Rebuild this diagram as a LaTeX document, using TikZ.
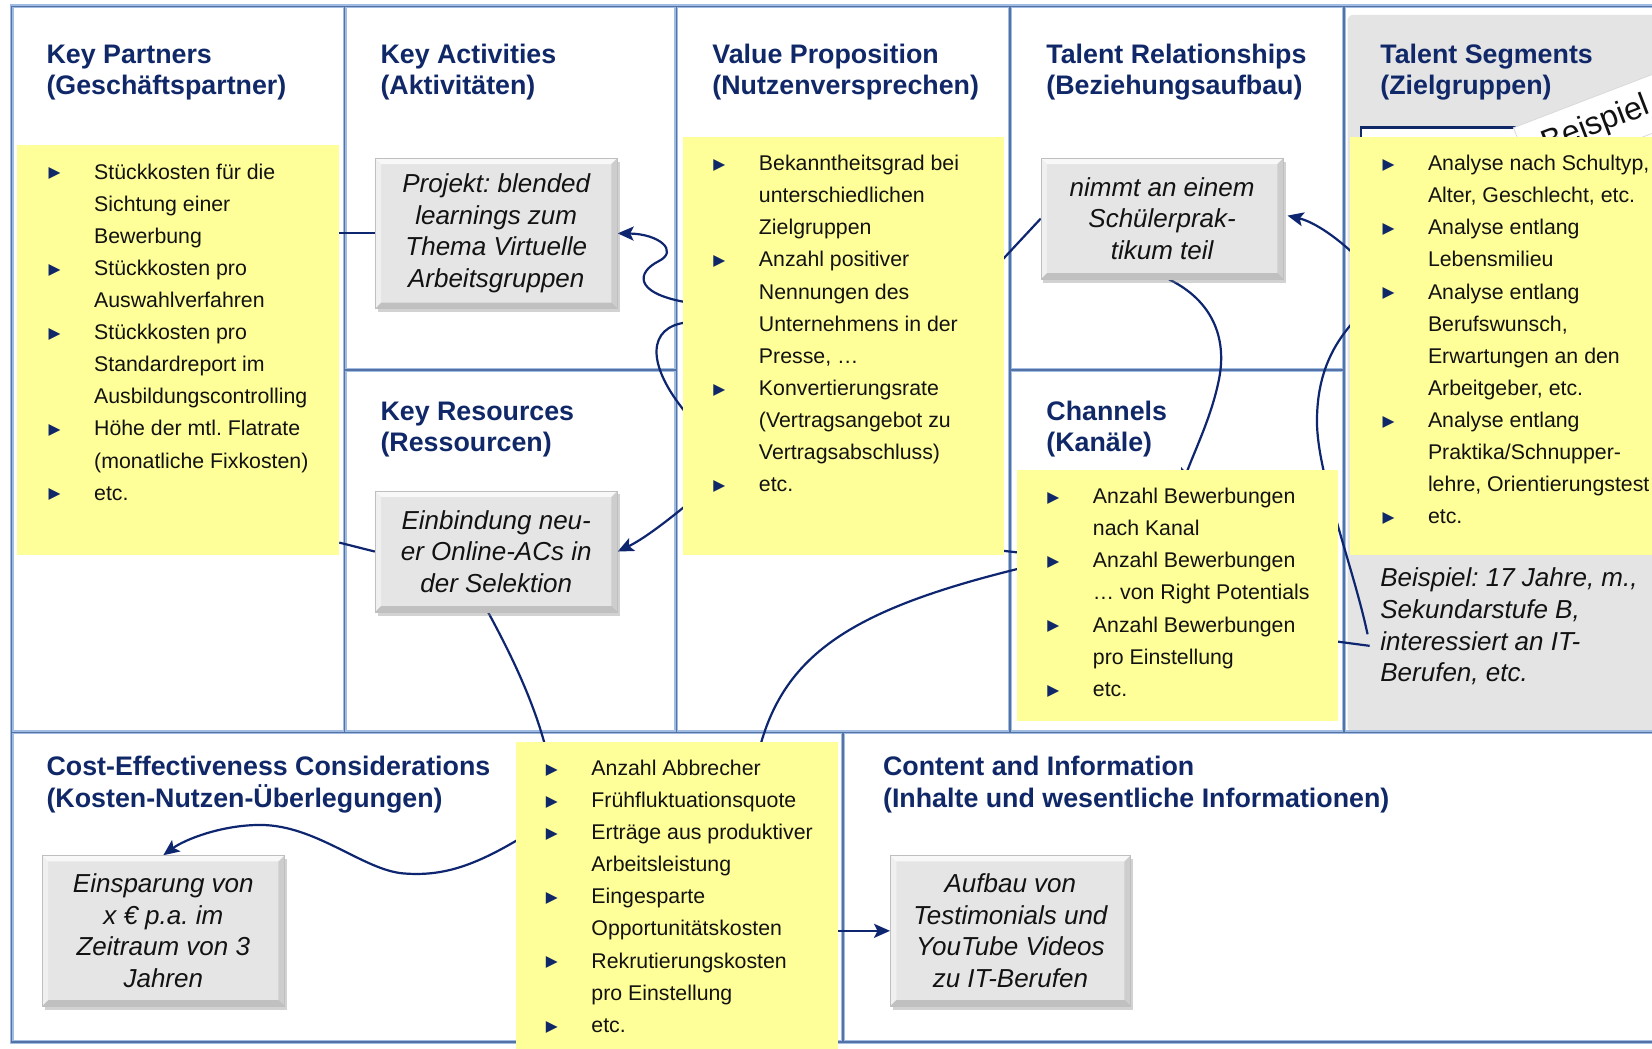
\documentclass[tikz,border=0pt]{standalone}
\usepackage{fontspec}
\setmainfont{Liberation Sans}
\newfontfamily\dejavu{DejaVu Sans}
\usetikzlibrary{arrows.meta,fit,shadows}

\definecolor{navy}{RGB}{16,40,104}
\definecolor{arrowc}{RGB}{14,38,112}
\definecolor{ylw}{RGB}{255,255,153}
\definecolor{segbg}{RGB}{228,228,228}
\definecolor{boxgrey}{RGB}{229,229,229}
\definecolor{frameL}{RGB}{160,188,226}
\definecolor{frameD}{RGB}{84,114,164}
\definecolor{txt}{RGB}{18,18,18}

\pgfdeclarelayer{bg}
\pgfdeclarelayer{links}
\pgfsetlayers{bg,links,main}

% bullet sign and small table helpers
\newcommand\bl{\raisebox{1.2pt}{\textcolor{navy}{\dejavu\fontsize{15.5pt}{15.5pt}\selectfont ▶}}}
\newcommand\twol[2]{\begin{tabular}[t]{@{}l@{}}#1\\#2\end{tabular}}
\newenvironment{blist}{\begin{tabular}[t]{@{}p{45.5pt}@{}l@{}}}{\end{tabular}}

\tikzset{
  hd/.style={anchor=base west, inner sep=0pt, text=navy,
    font=\fontsize{26.8pt}{31.6pt}\selectfont\bfseries},
  lst/.style={anchor=base west, inner sep=0pt, text=txt,
    font=\fontsize{21.3pt}{32.1pt}\selectfont},
  ybox/.style={fill=ylw, draw=none, inner sep=0pt},
  gbox/.style={draw=gray!50, line width=0.5pt, fill=boxgrey, inner sep=0pt,
    align=center, text=txt, font=\fontsize{26pt}{31.6pt}\selectfont\itshape,
    drop shadow={shadow xshift=2.5pt, shadow yshift=-3.5pt, opacity=0.35},
    path picture={
      \fill[white,opacity=0.75] (path picture bounding box.north west) -- (path picture bounding box.north east)
        -- ([shift={(-6pt,-6pt)}]path picture bounding box.north east) -- ([shift={(6pt,-6pt)}]path picture bounding box.north west) -- cycle;
      \fill[white,opacity=0.45] (path picture bounding box.north west) -- ([shift={(6pt,-6pt)}]path picture bounding box.north west)
        -- ([shift={(6pt,6pt)}]path picture bounding box.south west) -- (path picture bounding box.south west) -- cycle;
      \fill[black,opacity=0.16] (path picture bounding box.south west) -- (path picture bounding box.south east)
        -- ([shift={(-6pt,6pt)}]path picture bounding box.south east) -- ([shift={(6pt,6pt)}]path picture bounding box.south west) -- cycle;
      \fill[black,opacity=0.10] (path picture bounding box.north east) -- (path picture bounding box.south east)
        -- ([shift={(-6pt,6pt)}]path picture bounding box.south east) -- ([shift={(-6pt,-6pt)}]path picture bounding box.north east) -- cycle;
    }},
  link/.style={draw=arrowc, line width=2.2pt},
  arr/.style={link, -{Stealth[length=16pt,width=14pt,inset=3.5pt]}},
}

\begin{document}
\frenchspacing
\begin{tikzpicture}[x=1.053571pt, y=-1.053571pt]
\useasboundingbox (0,0) rectangle (1568,995);

% ---------- canvas, grid of the model ----------
\begin{pgfonlayer}{bg}
  \fill[white] (0,0) rectangle (1568,995);
  \fill[segbg, rounded corners=6pt] (1279,14) rectangle (1590,695);
  \foreach \w/\c in {4pt/frameL, 1.4pt/frameD} {
    \draw[line width=\w, draw=\c] (1580,6) -- (11,6) -- (11,989) -- (1580,989);
    \draw[line width=\w, draw=\c] (11,695) -- (1580,695);
    \draw[line width=\w, draw=\c] (327,6) -- (327,695) (642,6) -- (642,695)
      (958.5,6) -- (958.5,695) (1275.5,6) -- (1275.5,695)
      (327,351) -- (642,351) (958.5,351) -- (1275.5,351) (800,695) -- (800,989);
  }
  % example card with its tilted tag
  \node[fit={(1292,121) (1570,300)}, inner sep=0pt, draw=navy, line width=2.4pt, fill=white] (card) {};
  \node[rotate=21, anchor=north west, fill=white, draw=gray!30, line width=0.8pt,
        minimum height=55pt, text width=220pt, inner xsep=22pt, inner ysep=0pt, align=left,
        font=\fontsize{32pt}{32pt}\selectfont, text=txt] (tag) at (1436,121) {Beispiel};
\end{pgfonlayer}

% ---------- headings ----------
\node[hd] (hkp) at (44,60)  {\twol{Key Partners}{(Geschäftspartner)}};
\node[hd] (hka) at (361,60) {\twol{Key Activities}{(Aktivitäten)}};
\node[hd] (hvp) at (676,60) {\twol{Value Proposition}{(Nutzenversprechen)}};
\node[hd] (htr) at (993,60) {\twol{Talent Relationships}{(Beziehungsaufbau)}};
\node[hd] (hts) at (1310,60) {\twol{Talent Segments}{(Zielgruppen)}};
\node[hd] (hkr) at (361,399) {\twol{Key Resources}{(Ressourcen)}};
\node[hd] (hch) at (993,399) {\twol{Channels}{(Kanäle)}};
\node[hd] (hce) at (44,736) {\twol{Cost-Effectiveness Considerations}{(Kosten-Nutzen-Überlegungen)}};
\node[hd] (hci) at (838,736) {\twol{Content and Information}{(Inhalte und wesentliche Informationen)}};

% ---------- yellow KPI panels ----------
\node[ybox, fit={(16,138) (322,527)}] (kp) {};
\node[ybox, fit={(648,130) (953,527)}] (vp) {};
\node[ybox, fit={(1281,130) (1580,527)}] (ts) {};
\node[ybox, fit={(965,446) (1270,684)}] (ch) {};
\node[ybox, fit={(490,704) (795,1000)}] (cb) {};

\node[lst] (kpl) at (46,170) {\begin{blist}
\bl & Stückkosten für die\\ & Sichtung einer\\ & Bewerbung\\
\bl & Stückkosten pro\\ & Auswahlverfahren\\
\bl & Stückkosten pro\\ & Standardreport im\\ & Ausbildungscontrolling\\
\bl & Höhe der mtl. Flatrate\\ & (monatliche Fixkosten)\\
\bl & etc.
\end{blist}};

\node[lst] (vpl) at (677,162) {\begin{blist}
\bl & Bekanntheitsgrad bei\\ & unterschiedlichen\\ & Zielgruppen\\
\bl & Anzahl positiver\\ & Nennungen des\\ & Unternehmens in der\\ & Presse, …\\
\bl & Konvertierungsrate\\ & (Vertragsangebot zu\\ & Vertragsabschluss)\\
\bl & etc.
\end{blist}};

\node[lst] (tsl) at (1312,162) {\begin{blist}
\bl & Analyse nach Schultyp,\\ & Alter, Geschlecht, etc.\\
\bl & Analyse entlang\\ & Lebensmilieu\\
\bl & Analyse entlang\\ & Berufswunsch,\\ & Erwartungen an den\\ & Arbeitgeber, etc.\\
\bl & Analyse entlang\\ & Praktika/Schnupper-\\ & lehre, Orientierungstest\\
\bl & etc.
\end{blist}};

\node[lst] (chl) at (994,478) {\begin{blist}
\bl & Anzahl Bewerbungen\\ & nach Kanal\\
\bl & Anzahl Bewerbungen\\ & … von Right Potentials\\
\bl & Anzahl Bewerbungen\\ & pro Einstellung\\
\bl & etc.
\end{blist}};

\node[lst] (cbl) at (518,736) {\begin{blist}
\bl & Anzahl Abbrecher\\
\bl & Frühfluktuationsquote\\
\bl & Erträge aus produktiver\\ & Arbeitsleistung\\
\bl & Eingesparte\\ & Opportunitätskosten\\
\bl & Rekrutierungskosten\\ & pro Einstellung\\
\bl & etc.
\end{blist}};

% ---------- example boxes ----------
\node[gbox, minimum width=242.3pt, minimum height=150.7pt] (proj) at (471,221.5)
  {Projekt: blended\\learnings zum\\Thema Virtuelle\\Arbeitsgruppen};
\node[gbox, minimum width=242.3pt, minimum height=121.2pt] (ein) at (471,523.5)
  {Einbindung neu-\\er Online-ACs in\\der Selektion};
\node[gbox, minimum width=242.3pt, minimum height=121.2pt] (tr) at (1103,207.5)
  {nimmt an einem\\Schülerprak-\\tikum teil};
\node[gbox, minimum width=242.3pt, minimum height=150.7pt] (cost) at (155,883.5)
  {Einsparung von\\x € p.a. im\\Zeitraum von 3\\Jahren};
\node[gbox, minimum width=240.2pt, minimum height=150.7pt] (cont) at (959,883.5)
  {Aufbau von\\Testimonials und\\YouTube Videos\\zu IT-Berufen};

\node[anchor=base west, inner sep=0pt, text=txt, font=\fontsize{26pt}{31.6pt}\selectfont\itshape] (bsp) at (1310,557)
  {\begin{tabular}[t]{@{}l@{}}Beispiel: 17 Jahre, m.,\\Sekundarstufe B,\\interessiert an IT-\\Berufen, etc.\end{tabular}};

% ---------- connectors ----------
\coordinate (kpB) at (322,515);
\coordinate (vpA) at (652,287);
\coordinate (vpB) at (652,306);
\coordinate (vpC) at (652,393);
\coordinate (vpD) at (652,479);
\coordinate (vpE) at (951,247);
\coordinate (vpF) at (945,522);
\coordinate (chA) at (970,539);
\coordinate (chB) at (1122,460);
\coordinate (chC) at (1262,608);
\coordinate (chD) at (972,525);
\coordinate (tsA) at (1286,242);
\coordinate (tsB) at (1286,304);
\coordinate (cbA) at (518,710);
\coordinate (cbB) at (721,710);
\coordinate (cbC) at (495,795);
\coordinate (bspA) at (1298,602);
\coordinate (bspB) at (1300,613);

\begin{pgfonlayer}{links}
  \draw[link] (kp.east |- proj.west) -- (proj.west);
  \draw[link] (kpB) -- (ein.west);
  \draw[arr] (vpA) .. controls (600,278) and (605,258) .. (625,248)
             .. controls (645,238) and (625,222) .. (proj.east);
  \draw[link] (vpB) .. controls (615,310) and (612,345) .. (vpC);
  \draw[arr] (vpD) .. controls (630,497) and (610,512) .. (ein.east);
  \draw[link] ([xshift=-8pt]ein.south) .. controls (480,612) and (505,660) .. (cbA);
  \draw[link] (cbB) .. controls (745,620) and (810,578) .. (chA);
  \draw[link] (tr.west) -- (vpE);
  \draw[link] (vpF) -- (chD);
  \draw[arr] ([xshift=7pt]tr.south) .. controls (1150,285) and (1165,320) .. (1157,360)
             .. controls (1150,395) and (1135,425) .. (chB);
  \draw[arr] (tsA) .. controls (1265,222) and (1245,210) .. ([xshift=4pt,yshift=3pt]tr.east);
  \draw[link] (tsB) .. controls (1262,330) and (1250,360) .. (1250,400)
              .. controls (1250,450) and (1285,540) .. (bspA);
  \draw[link] (chC) -- (bspB);
  \draw[arr] (cbC) .. controls (450,822) and (420,832) .. (383,829)
             .. controls (345,826) and (300,783) .. (247,783)
             .. controls (210,783) and (175,797) .. (cost.north);
  \draw[arr] (cb.east |- cont.west) -- (cont.west);
\end{pgfonlayer}
\end{tikzpicture}
\end{document}
